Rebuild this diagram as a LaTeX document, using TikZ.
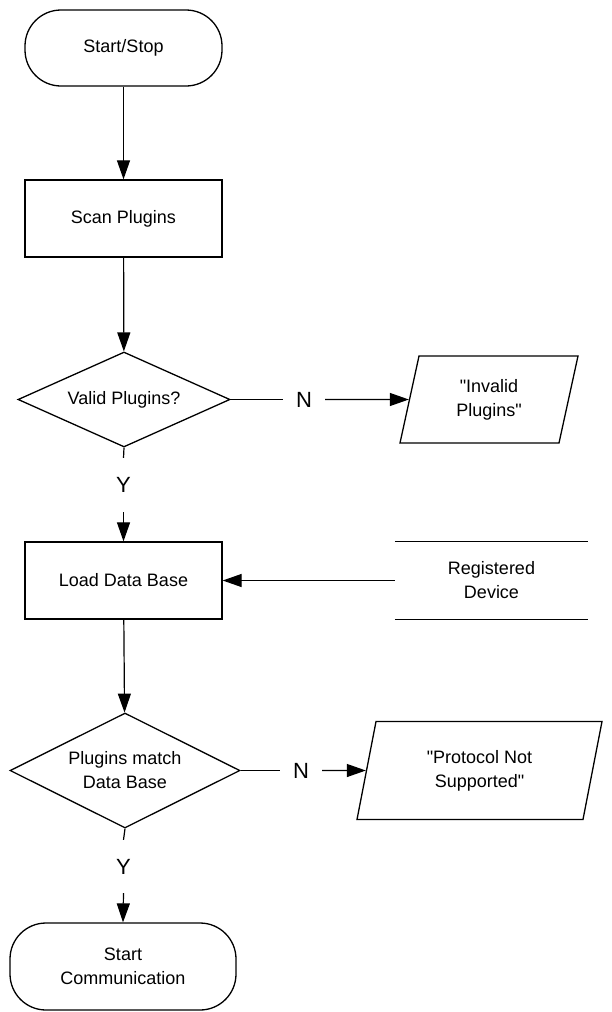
\documentclass[tikz,border=0pt]{standalone}
\usepackage{fontspec}
\setmainfont{Liberation Sans}[Ligatures=TeXOff]
\usetikzlibrary{shapes.geometric,arrows.meta}
\begin{document}
\begin{tikzpicture}[x=1pt,y=1pt,
 every node/.style={font=\fontsize{18}{24}\selectfont, align=center},
 term/.style={draw, line width=1.3pt, rounded corners=36pt, inner sep=0pt},
 proc/.style={draw, line width=1.3pt, inner sep=0pt},
 dec/.style={draw, diamond, line width=1.3pt, inner sep=0pt, aspect=2.2},
 io/.style={draw, trapezium, trapezium left angle=65, trapezium right angle=115, trapezium stretches body, line width=1.3pt, inner sep=0pt},
 store/.style={inner sep=0pt},
 lbl/.style={font=\fontsize{22}{24}\selectfont, inner sep=0pt},
 arr/.style={line width=1.2pt, -{Triangle[length=19pt,width=13pt]}},
 ln/.style={line width=1.2pt}]
\useasboundingbox (0,0) rectangle (611,-1012);
\node[term, minimum width=197pt, minimum height=76pt] (ss) at (123.5,-48) {Start/Stop};
\node[proc, minimum width=197pt, minimum height=77pt] (scan) at (123.5,-218.5) {Scan Plugins};
\node[dec, minimum width=212pt, minimum height=95pt] (d1) at (124,-399.5) {Valid Plugins?};
\node[io, minimum width=178pt, minimum height=87pt] (p1) at (489,-399.5) {"Invalid\\Plugins"};
\node[lbl, minimum width=42pt] (n1) at (304,-399.5) {N};
\node[lbl, minimum height=54pt] (y1) at (123.5,-485) {Y};
\node[proc, minimum width=197pt, minimum height=77pt] (load) at (123.5,-580.5) {Load Data Base};
\node[store, minimum width=193pt, minimum height=77pt] (rd) at (491.5,-580.5) {Registered\\Device};
\node[dec, minimum width=230pt, minimum height=115pt] (d2) at (125,-770.5) {Plugins match\\Data Base};
\node[lbl, minimum width=42pt] (n2) at (301,-770.5) {N};
\node[io, minimum width=245pt, minimum height=98pt] (p2) at (479.5,-770.5) {"Protocol Not\\Supported"};
\node[lbl, minimum height=53pt] (y2) at (123.5,-866.5) {Y};
\node[term, minimum width=226pt, minimum height=87pt] (sc) at (123,-966.5) {Start\\Communication};
\draw[ln, line width=1.3pt] (rd.north west) -- (rd.north east);
\draw[ln, line width=1.3pt] (rd.south west) -- (rd.south east);
\draw[arr] (ss) -- (scan);
\draw[arr] (scan) -- (d1);
\draw[ln] (d1.east) -- (n1.west);
\draw[arr] (n1.east) -- (p1);
\draw[ln] (d1.south) -- (y1.north);
\draw[arr] (y1.south) -- (load.north);
\draw[arr] (rd.west) -- (load.east);
\draw[arr] (load) -- (d2);
\draw[ln] (d2.east) -- (n2.west);
\draw[arr] (n2.east) -- (p2);
\draw[ln] (d2.south) -- (y2.north);
\draw[arr] (y2.south) -- (sc.north);
\end{tikzpicture}
\end{document}
